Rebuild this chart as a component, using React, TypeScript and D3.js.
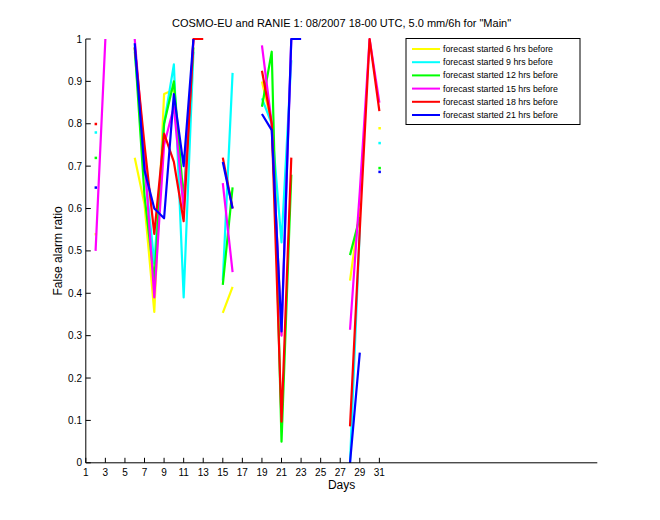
import React from "react";
import * as d3 from "d3";

const days: number[] = Array.from({ length: 31 }, (_, i) => i + 1);

type V = number | null;
const N = null;

// values by day 1..31 (null = no data)
const yellow6: V[] = [N, 0.54, N, N, N, 0.72, 0.61, 0.356, 0.87, 0.88, 0.6, N, N, N, 0.354, 0.415, N, N, 0.9, 0.8, 0.3, N, N, N, N, N, N, 0.43, 0.6, N, 0.79];
const cyan9: V[] = [N, 0.78, N, N, N, 0.97, 0.7, 0.47, 0.8, 0.94, 0.39, 0.97, N, N, 0.43, 0.92, N, N, 0.86, 0.8, 0.52, 0.95, N, N, N, N, N, 0.0, 0.55, N, 0.755];
const green12: V[] = [N, 0.72, N, N, N, 0.98, 0.63, 0.43, 0.8, 0.9, 0.62, 0.98, N, N, 0.42, 0.65, N, N, 0.84, 0.97, 0.05, 0.68, N, N, N, N, N, 0.49, 0.58, N, 0.696];
const magenta15: V[] = [N, 0.5, 1.0, N, N, 1.0, 0.72, 0.39, 0.75, 0.84, 0.6, 1.0, N, N, 0.66, 0.45, N, N, 0.985, 0.8, 0.3, 1.0, 1.0, N, N, N, N, 0.314, 0.64, 1.0, 0.85];
const red18: V[] = [N, 0.8, N, N, N, 0.98, 0.75, 0.54, 0.777, 0.71, 0.57, 1.0, 1.0, N, 0.72, 0.6, N, N, 0.925, 0.8, 0.097, 0.72, N, N, N, N, N, 0.086, 0.55, 1.0, 0.83];
const blue21: V[] = [N, 0.65, N, N, N, 0.99, 0.69, 0.6, 0.577, 0.87, 0.7, 1.0, N, N, 0.71, 0.6, N, N, 0.823, 0.785, 0.31, 1.0, 1.0, N, N, N, N, 0.0, 0.26, N, 0.687];

const seriesNames: string[] = [
  "forecast started 6 hrs before",
  "forecast started 9 hrs before",
  "forecast started 12 hrs before",
  "forecast started 15 hrs before",
  "forecast started 18 hrs before",
  "forecast started 21 hrs before",
];
const seriesColors: string[] = ["#ffff00", "#00ffff", "#00ff00", "#ff00ff", "#ff0000", "#0000ff"];
const seriesValues: V[][] = [yellow6, cyan9, green12, magenta15, red18, blue21];

const xTicks: number[] = [1, 3, 5, 7, 9, 11, 13, 15, 17, 19, 21, 23, 25, 27, 29, 31];
const yTicks: number[] = [0, 0.1, 0.2, 0.3, 0.4, 0.5, 0.6, 0.7, 0.8, 0.9, 1];
const yTickLabels: string[] = ["0", "0.1", "0.2", "0.3", "0.4", "0.5", "0.6", "0.7", "0.8", "0.9", "1"];

const titleText = 'COSMO-EU and RANIE 1: 08/2007 18-00 UTC, 5.0 mm/6h for "Main"';

export default function App() {
  const W = 660, H = 520;
  const left = 85.8, right = 597.3, top = 39, bottom = 462.8;
  const x = d3.scaleLinear().domain([1, 53.27]).range([left, right]);
  const y = d3.scaleLinear().domain([0, 1]).range([bottom, top]);
  const font = "'Liberation Sans', Arial, Helvetica, sans-serif";

  const line = d3
    .line<[number, V]>()
    .defined((d) => d[1] !== null)
    .x((d) => x(d[0]))
    .y((d) => y(d[1] as number));

  const isolated = (vals: V[]) =>
    days.filter((d, i) => vals[i] !== null && (i === 0 || vals[i - 1] === null) && (i === vals.length - 1 || vals[i + 1] === null));

  return (
    <svg width={W} height={H} style={{ position: "absolute", left: 0, top: 0, background: "#fff" }} fontFamily={font}>
      <rect x={0} y={0} width={W} height={H} fill="#fff" />
      {seriesValues.map((vals, si) => (
        <g key={si}>
          <path
            d={line(days.map((d, i) => [d, vals[i]] as [number, V])) || ""}
            fill="none"
            stroke={seriesColors[si]}
            strokeWidth={2.2}
            strokeLinejoin="round"
          />
          {isolated(vals).map((d) => (
            <rect key={d} x={x(d) - 1} y={y(vals[d - 1] as number) - 1} width={2.5} height={2.5} fill={seriesColors[si]} />
          ))}
        </g>
      ))}
      {/* axes */}
      <line x1={left} x2={right} y1={bottom} y2={bottom} stroke="#000" strokeWidth={1} />
      <line x1={left} x2={left} y1={top} y2={bottom} stroke="#000" strokeWidth={1} />
      {xTicks.map((t) => (
        <g key={"x" + t}>
          <line x1={x(t)} x2={x(t)} y1={bottom} y2={bottom - 5} stroke="#000" />
          <text x={x(t)} y={476} fontSize={10} textAnchor="middle">
            {t}
          </text>
        </g>
      ))}
      {yTicks.map((t, i) => (
        <g key={"y" + t}>
          <line x1={left} x2={left + 5} y1={y(t)} y2={y(t)} stroke="#000" />
          <text x={82} y={y(t) + 3.5} fontSize={10} textAnchor="end">
            {yTickLabels[i]}
          </text>
        </g>
      ))}
      <text x={(left + right) / 2} y={489} fontSize={12} textAnchor="middle">
        Days
      </text>
      <text transform={`translate(62,${(top + bottom) / 2}) rotate(-90)`} fontSize={12} textAnchor="middle">
        False alarm ratio
      </text>
      <text x={(left + right) / 2} y={27} fontSize={11} textAnchor="middle">
        {titleText}
      </text>
      {/* legend */}
      <rect x={406} y={38.5} width={174} height={86} fill="#fff" stroke="#000" strokeWidth={1} />
      {seriesNames.map((name, i) => {
        const ly = 49 + i * 13.2;
        return (
          <g key={name}>
            <line x1={412} x2={440} y1={ly} y2={ly} stroke={seriesColors[i]} strokeWidth={2} />
            <text x={443} y={ly + 3} fontSize={8.8}>
              {name}
            </text>
          </g>
        );
      })}
    </svg>
  );
}
